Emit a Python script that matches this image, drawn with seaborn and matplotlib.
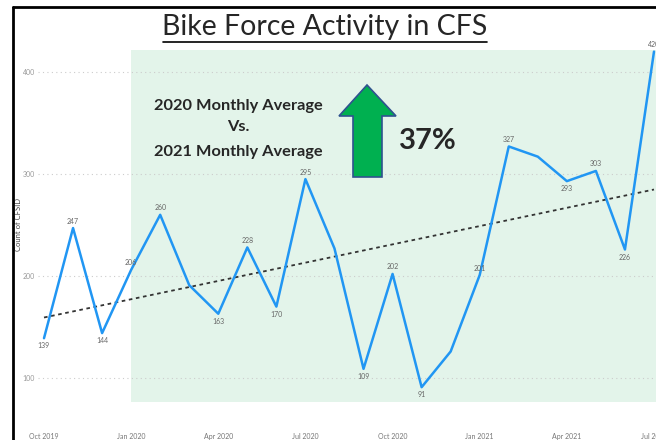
import numpy as np
import pandas as pd
import matplotlib.pyplot as plt
import seaborn as sns
from matplotlib.patches import Rectangle, Polygon
from matplotlib.lines import Line2D

# Monthly counts of bike force calls
months = ['Oct 2019', 'Nov 2019', 'Dec 2019',
          'Jan 2020', 'Feb 2020', 'Mar 2020', 'Apr 2020', 'May 2020', 'Jun 2020',
          'Jul 2020', 'Aug 2020', 'Sep 2020', 'Oct 2020', 'Nov 2020', 'Dec 2020',
          'Jan 2021', 'Feb 2021', 'Mar 2021', 'Apr 2021', 'May 2021', 'Jun 2021',
          'Jul 2021']
counts = [139, 247, 144, 206, 260, 191, 163, 228, 170, 295, 227, 109, 202, 91, 126,
          201, 327, 317, 293, 303, 226, 420]
# where the data label goes: a = above, b = below, None = no label
label_pos = ['b', 'a', 'b', 'a', 'a', None, 'b', 'a', 'b', 'a', None, 'b', 'a', 'b', None,
             'a', 'a', None, 'b', 'a', 'b', 'a']
tick_months = ['Oct 2019', 'Jan 2020', 'Apr 2020', 'Jul 2020', 'Oct 2020',
               'Jan 2021', 'Apr 2021', 'Jul 2021']
y_ticks = [100, 200, 300, 400]

df = pd.DataFrame({'month': months, 'count': counts})
df['idx'] = np.arange(len(df))

sns.set_theme(style='white')
plt.rcParams['font.family'] = ['Lato', 'DejaVu Sans']

W, H = 656, 440
fig = plt.figure(figsize=(W / 100, H / 100), dpi=100)


def fx(px):
    return px / W


def fy(py):
    return 1 - py / H


ax = fig.add_axes([fx(38), fy(420), 1 - fx(38), fy(40) - fy(420)])
px_month = (654 - 44) / 21
ax.set_xlim(-(44 - 38) / px_month, (656 - 44) / px_month)
ax.set_ylim(100 + (378 - 420) / 1.02, 100 + (378 - 40) / 1.02)

# shaded overlay from Jan 2020 onward
ax.add_patch(Rectangle((3, 76.5), 25, 345, facecolor='#e3f4ea', edgecolor='none', zorder=0.2))

sns.lineplot(data=df, x='idx', y='count', color='#2196F3', lw=1.8, ax=ax, zorder=3)
sns.regplot(data=df, x='idx', y='count', scatter=False, ci=None, ax=ax,
            line_kws=dict(color='#333333', ls=(0, (2, 2)), lw=1.3, zorder=2))

for i, (v, p) in enumerate(zip(counts, label_pos)):
    if p is None:
        continue
    off, va = ((0, 2.5), 'bottom') if p == 'a' else ((0, -3), 'top')
    ax.annotate(str(v), (i, v), xytext=off, textcoords='offset points',
                ha='center', va=va, fontsize=5, color='#666666', zorder=4)

ax.set_xticks([months.index(m) for m in tick_months])
ax.set_xticklabels(tick_months, fontsize=5, color='#777777')
ax.set_yticks(y_ticks)
ax.set_yticklabels([str(t) for t in y_ticks], fontsize=5, color='#999999')
ax.tick_params(axis='x', length=0, pad=9)
ax.tick_params(axis='y', length=0, pad=2)
ax.set_axisbelow(True)
ax.grid(axis='y', ls=(0, (1, 3)), color='#cccccc', lw=0.8)
ax.grid(axis='x', visible=False)
for s in ax.spines.values():
    s.set_visible(False)
ax.set_xlabel('')
ax.set_ylabel('Count of CFSID', fontsize=5.5, color='#444444')
ax.yaxis.set_label_coords((22 - 38) / (W - 38), (420 - 224) / 380)

# slide frame
fig.add_artist(Line2D([fx(13), fx(13)], [fy(7), 0], color='black', lw=2))
fig.add_artist(Line2D([fx(13), 1], [fy(7), fy(7)], color='black', lw=2))

# title with underline
fig.text(fx(325), fy(27), 'Bike Force Activity in CFS', fontsize=20.5, ha='center', va='center')
fig.add_artist(Line2D([fx(163), fx(487)], [fy(42), fy(42)], color='black', lw=1.2))

# comparison callout
for txt, y in [('2020 Monthly Average', 106), ('Vs.', 127), ('2021 Monthly Average', 152)]:
    fig.text(fx(238), fy(y), txt, fontsize=11.8, fontweight='bold', ha='center', va='center')
arrow = [(353, 177), (353, 116), (339, 116), (367, 85), (396, 116), (382, 116), (382, 177)]
fig.add_artist(Polygon([(fx(x), fy(y)) for x, y in arrow], closed=True,
                       facecolor='#00B050', edgecolor='#2F528F', lw=1.2,
                       transform=fig.transFigure))
fig.text(fx(428), fy(141), '37%', fontsize=21, fontweight='bold', ha='center', va='center')

fig.savefig('out.png', dpi=100)
